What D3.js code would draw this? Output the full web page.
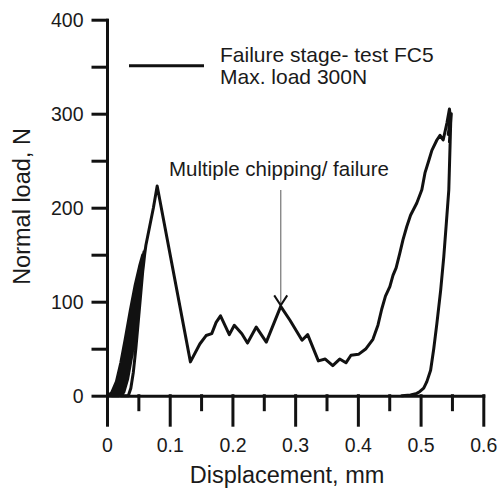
<!DOCTYPE html>
<html lang="en">
<head>
    <meta charset="UTF-8">
    <title>Failure stage - test FC5</title>
    <script src="https://d3js.org/d3.v7.min.js"></script>
    <style>
        body {
            margin: 0;
            background: #fff;
        }
        svg text {
            font-family: "Liberation Sans", Arial, Helvetica, sans-serif;
            fill: #1a1a1a;
        }
    </style>
</head>
<body>
    <script>
        // Displacement (mm) and normal load (N), in load order
        const dispMm = [
            // load/unload loops near the origin
            0.002, 0.008, 0.015, 0.022, 0.029, 0.037, 0.045, 0.052, 0.057,
            0.054, 0.049, 0.043, 0.036, 0.029, 0.022, 0.014,
            0.008, 0.014, 0.021, 0.028, 0.035, 0.042, 0.049, 0.055, 0.059,
            0.056, 0.050, 0.044, 0.038, 0.031, 0.025, 0.019,
            0.013, 0.019, 0.026, 0.033, 0.040, 0.047, 0.053, 0.058, 0.061,
            0.058, 0.052, 0.046, 0.040, 0.033, 0.027, 0.022,
            // last loading up to first peak
            0.034, 0.038, 0.042, 0.046, 0.050, 0.054, 0.058, 0.062, 0.068, 0.074, 0.080,
            // drop and chipping region
            0.133, 0.148, 0.158, 0.167, 0.174, 0.181, 0.195, 0.203, 0.215, 0.224,
            0.238, 0.254, 0.277, 0.292, 0.311, 0.320, 0.337, 0.348, 0.360, 0.371,
            0.381, 0.389, 0.401, 0.413, 0.424, 0.432, 0.438, 0.444, 0.451, 0.456, 0.461, 0.467, 0.472,
            0.478, 0.484, 0.494, 0.502, 0.507, 0.513, 0.518, 0.526, 0.531, 0.536, 0.542,
            0.546, 0.548, 0.544, 0.549, 0.546, 0.548,
            // unloading
            0.545, 0.541, 0.537, 0.532, 0.526, 0.521, 0.516, 0.510, 0.505, 0.499, 0.494, 0.484, 0.470
        ];
        const loadN = [
            0, 4, 15, 35, 60, 90, 118, 138, 150,
            132, 108, 80, 50, 25, 8, 0,
            0, 8, 22, 42, 66, 92, 118, 140, 153,
            136, 106, 76, 48, 22, 6, 0,
            0, 10, 28, 50, 76, 104, 128, 146, 156,
            138, 106, 74, 44, 18, 4, 0,
            0, 8, 25, 50, 80, 110, 140, 160, 180, 200, 223,
            36, 55, 64, 66, 78, 85, 65, 75, 66, 56,
            73, 57, 95, 80, 59, 65, 37, 39, 32, 39,
            35, 43, 44, 50, 60, 75, 92, 106, 116, 128, 136, 152, 166,
            180, 192, 205, 219, 237, 250, 261, 272, 277, 272, 290,
            305, 293, 278, 300, 270, 290,
            219, 183, 148, 112, 77, 50, 27, 15, 8, 4.5, 2.5, 0.7, 0
        ];

        const xTicks = [0, 0.05, 0.1, 0.15, 0.2, 0.25, 0.3, 0.35, 0.4, 0.45, 0.5, 0.55, 0.6];
        const xTickLabels = ["0", "", "0.1", "", "0.2", "", "0.3", "", "0.4", "", "0.5", "", "0.6"];
        const yTicks = [0, 50, 100, 150, 200, 250, 300, 350, 400];
        const yTickLabels = ["0", "", "100", "", "200", "", "300", "", "400"];

        const legendLines = ["Failure stage- test FC5", "Max. load 300N"];
        const noteText = "Multiple chipping/ failure";
        const notePoint = [0.277, 95];

        const width = 499, height = 492;
        const svg = d3.select("body").append("svg")
            .attr("width", width)
            .attr("height", height);

        const x = d3.scaleLinear().domain([0, 0.6]).range([107, 483.3]);
        const y = d3.scaleLinear().domain([0, 400]).range([395.7, 19.7]);

        // y axis
        const yAxis = svg.append("g")
            .attr("transform", `translate(${x(0)},0)`)
            .call(d3.axisLeft(y)
                .tickValues(yTicks)
                .tickSize(14)
                .tickSizeOuter(0)
                .tickFormat((d, i) => yTickLabels[i]));

        yAxis.selectAll("text")
            .attr("x", -23.5)
            .attr("dy", "0.34em")
            .style("font-size", "19.5px");

        // x axis, long ticks on the labelled values
        const xAxis = svg.append("g")
            .attr("transform", `translate(0,${y(0)})`)
            .call(d3.axisBottom(x)
                .tickValues(xTicks)
                .tickSize(14)
                .tickSizeOuter(0)
                .tickFormat((d, i) => xTickLabels[i]));

        xAxis.selectAll(".tick line")
            .attr("y2", (d, i) => i % 2 === 0 ? 29.5 : 14);
        xAxis.selectAll("text")
            .attr("y", 56.6)
            .attr("dy", null)
            .style("font-size", "19.5px");

        svg.selectAll(".domain, .tick line")
            .attr("stroke", "#111")
            .attr("stroke-width", 3)
            .attr("stroke-linecap", "square");
        svg.selectAll(".tick text").attr("fill", "#1a1a1a");

        // axis titles
        svg.append("text")
            .attr("x", 287)
            .attr("y", 483.3)
            .attr("text-anchor", "middle")
            .style("font-size", "23.5px")
            .text("Displacement, mm");

        svg.append("text")
            .attr("transform", "translate(30,206.5) rotate(-90)")
            .attr("text-anchor", "middle")
            .style("font-size", "23.5px")
            .text("Normal load, N");

        // curve
        const pts = dispMm.map((d, i) => [d, loadN[i]]);
        const line = d3.line()
            .x(d => x(d[0]))
            .y(d => y(d[1]));

        svg.append("path")
            .datum(pts)
            .attr("d", line)
            .attr("fill", "none")
            .attr("stroke", "#111")
            .attr("stroke-width", 3)
            .attr("stroke-linejoin", "round")
            .attr("stroke-linecap", "round");

        // legend
        svg.append("line")
            .attr("x1", 129).attr("x2", 204)
            .attr("y1", 65.7).attr("y2", 65.7)
            .attr("stroke", "#111")
            .attr("stroke-width", 3);

        svg.selectAll(".legend-text")
            .data(legendLines)
            .enter().append("text")
            .attr("class", "legend-text")
            .attr("x", 220)
            .attr("y", (d, i) => 62.3 + i * 22)
            .style("font-size", "21px")
            .text(d => d);

        // annotation with arrow
        svg.append("text")
            .attr("x", 169)
            .attr("y", 175.7)
            .style("font-size", "20.5px")
            .text(noteText);

        const tipX = x(notePoint[0]);
        const tipY = y(notePoint[1]) - 1;
        svg.append("line")
            .attr("x1", tipX).attr("x2", tipX)
            .attr("y1", 190).attr("y2", tipY)
            .attr("stroke", "#888")
            .attr("stroke-width", 1.4);

        svg.append("path")
            .attr("d", `M${tipX - 6.5},${tipY - 10}L${tipX},${tipY}L${tipX + 6.5},${tipY - 10}`)
            .attr("fill", "none")
            .attr("stroke", "#111")
            .attr("stroke-width", 2);
    </script>
</body>
</html>
